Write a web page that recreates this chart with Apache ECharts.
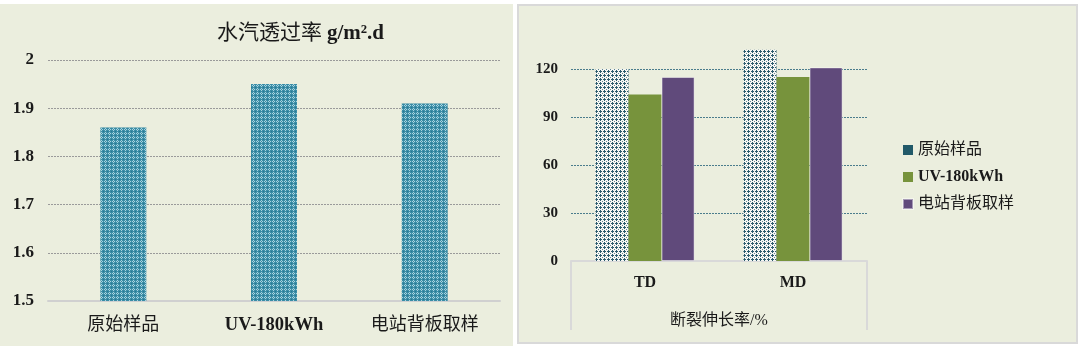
<!DOCTYPE html>
<html><head><meta charset="utf-8">
<script src="https://cdn.jsdelivr.net/npm/echarts@6/dist/echarts.min.js"></script>
<style>
html,body{margin:0;padding:0;background:#fff;width:1080px;height:348px;overflow:hidden}
#c1{position:absolute;left:0;top:4px;width:513px;height:342px;background:#EBEEDE}
#c2{position:absolute;left:517px;top:4px;width:561px;height:340px;background:#EBEEDE;border:2px solid #D9D9D9;box-sizing:border-box}
</style></head><body>
<div id="c1"></div><div id="c2"></div>
<script>
// ---- data ----
const leftTitleCJK = '水汽透过率';
const leftTitleUnit = 'g/m².d';
const leftCategories = ['原始样品', 'UV-180kWh', '电站背板取样'];
const leftValues = [1.86, 1.95, 1.91];

const rightCategories = ['TD', 'MD'];
const rightAxisName = '断裂伸长率/%';
const seriesNames = ['原始样品', 'UV-180kWh', '电站背板取样'];
const originalValues = [120, 132];
const uvValues = [104, 115];
const stationValues = [115, 121];

// ---- styles ----
const FONT = "'Liberation Serif', 'Noto Sans CJK SC', serif";
function makePattern(base, dot, mid, plus) {
  const c = document.createElement('canvas');
  c.width = 4; c.height = 4;
  const g = c.getContext('2d');
  g.fillStyle = base; g.fillRect(0, 0, 4, 4);
  g.fillStyle = dot;
  g.fillRect(1, 0, 1, 1); g.fillRect(0, 1, 1, 1); g.fillRect(2, 1, 1, 1); g.fillRect(1, 2, 1, 1);
  if (plus) g.fillRect(1, 1, 1, 1);
  g.fillStyle = mid;
  g.fillRect(3, 3, 1, 1);
  return { image: c, repeat: 'repeat' };
}
const leftPattern = makePattern('#3A8DA6', '#A9D3DF', '#2A7590', false);
const rightPattern = makePattern('#F6F7F3', '#2C5B6D', '#5F8593', true);

function labelFmt(v) { return /^[\x00-\x7f]+$/.test(v) ? '{b|' + v + '}' : '{n|' + v + '}'; }

// ---- left chart ----
const c1 = echarts.init(document.getElementById('c1'));
c1.setOption({
  animation: false,
  title: {
    text: '{n|' + leftTitleCJK + '} {b|' + leftTitleUnit + '}', left: 212, top: 14,
    textStyle: { fontWeight: 'normal', rich: {
      n: { fontFamily: FONT, fontSize: 21, fontWeight: 'normal', color: '#1a1a1a' },
      b: { fontFamily: FONT, fontSize: 21, fontWeight: 'bold', color: '#1a1a1a' } } }
  },
  grid: { left: 48, right: 13, top: 56, bottom: 45 },
  xAxis: {
    type: 'category', data: leftCategories,
    axisLine: { lineStyle: { color: '#D0D0D0', width: 2 } },
    axisTick: { show: false },
    axisLabel: { margin: 15, formatter: labelFmt, rich: {
      n: { fontFamily: FONT, fontSize: 18, color: '#1a1a1a' },
      b: { fontFamily: FONT, fontSize: 18.5, fontWeight: 'bold', color: '#1a1a1a' } } }
  },
  yAxis: {
    type: 'value', min: 1.5, max: 2, interval: 0.1,
    axisLine: { show: false }, axisTick: { show: false },
    axisLabel: { margin: 14, fontFamily: FONT, fontSize: 17, fontWeight: 'bold', color: '#1a1a1a',
      formatter: v => String(Math.round(v * 10) / 10) },
    splitLine: { lineStyle: { type: [2, 1], color: '#9A9A9A', width: 1 } }
  },
  series: [{ type: 'bar', data: leftValues, barWidth: 46, itemStyle: { color: leftPattern } }]
});

// ---- right chart ----
const gridR = { left: 52, right: 209, top: 39, bottom: 81 };
const c2 = echarts.init(document.getElementById('c2'));
c2.setOption({
  animation: false,
  legend: {
    orient: 'vertical', left: 378, top: 131, itemWidth: 10, itemHeight: 10, itemGap: 11,
    icon: 'rect',
    data: [
      { name: seriesNames[0], itemStyle: { color: '#215968' } },
      { name: seriesNames[1], itemStyle: { color: '#77933C' } },
      { name: seriesNames[2], itemStyle: { color: '#604A7B' } }
    ],
    formatter: labelFmt,
    textStyle: { rich: {
      n: { fontFamily: FONT, fontSize: 16, color: '#1a1a1a' },
      b: { fontFamily: FONT, fontSize: 16, fontWeight: 'bold', color: '#1a1a1a' } } }
  },
  grid: gridR,
  xAxis: {
    type: 'category', data: rightCategories,
    axisLine: { lineStyle: { color: '#D9D9D9', width: 2 } },
    axisTick: { show: false },
    axisLabel: { margin: 14, fontFamily: FONT, fontSize: 16, fontWeight: 'bold', color: '#1a1a1a' },
    name: rightAxisName, nameLocation: 'middle', nameGap: 52,
    nameTextStyle: { fontFamily: FONT, fontSize: 16, color: '#1a1a1a' }
  },
  yAxis: {
    type: 'value', min: 0, max: 135, interval: 30,
    axisLine: { show: false }, axisTick: { show: false },
    axisLabel: { margin: 13, fontFamily: FONT, fontSize: 15, fontWeight: 'bold', color: '#1a1a1a', showMaxLabel: false },
    splitLine: { showMaxLine: false, lineStyle: { type: [2, 1], color: '#4A7C8C', width: 1 } }
  },
  series: [
    { name: seriesNames[0], type: 'bar', data: originalValues, barGap: '0%', barCategoryGap: '33%',
      itemStyle: { color: rightPattern } },
    { name: seriesNames[1], type: 'bar', data: uvValues, itemStyle: { color: '#77933C' } },
    { name: seriesNames[2], type: 'bar', data: stationValues,
      itemStyle: { color: '#604A7B', borderColor: 'rgba(255,255,255,0.45)', borderWidth: 1 } }
  ]
});
// table-box lines below the x axis
(function () {
  const w = c2.getWidth(), h = c2.getHeight();
  const x0 = gridR.left, x1 = w - gridR.right, y0 = h - gridR.bottom, y1 = y0 + 69;
  const ls = { stroke: '#D9D9D9', lineWidth: 2 };
  c2.setOption({ graphic: [
    { type: 'line', shape: { x1: x0, y1: y0, x2: x0, y2: y1 }, style: ls, silent: true },
    { type: 'line', shape: { x1: x1, y1: y0, x2: x1, y2: y1 }, style: ls, silent: true }
  ] });
})();
</script>
</body></html>
